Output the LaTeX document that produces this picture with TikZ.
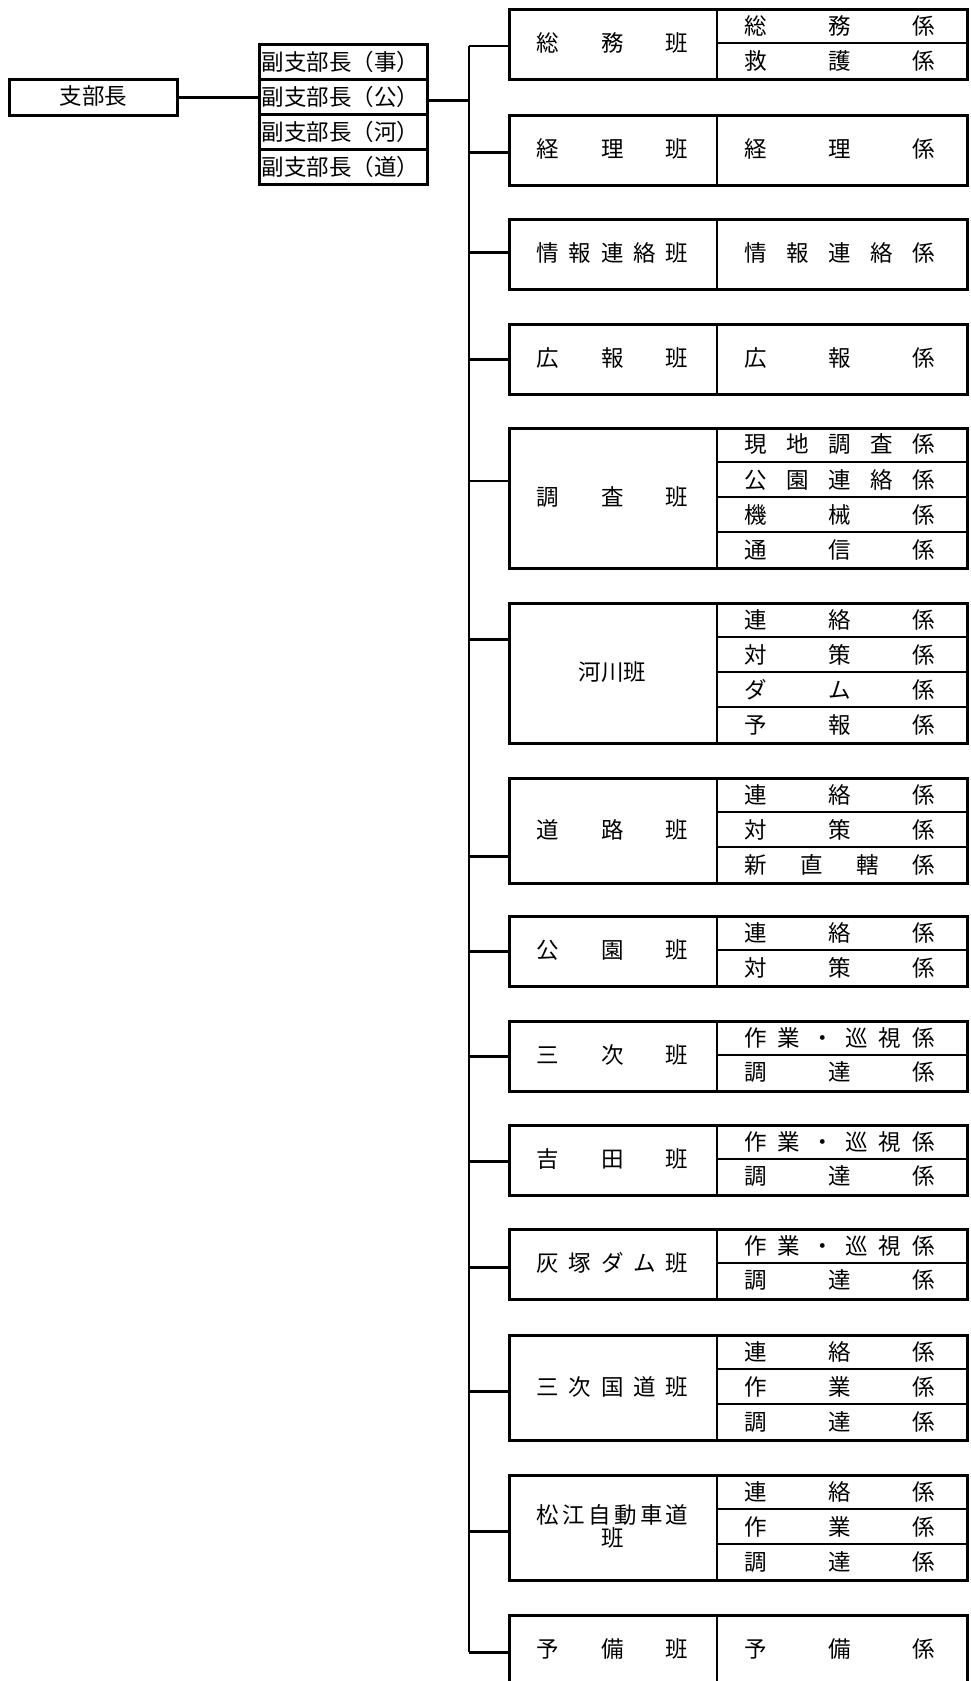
\documentclass[tikz,border=0pt]{standalone}
\usepackage{fontspec}
\setmainfont{Noto Sans CJK JP}
\newcommand\rtxt[1]{\makebox[191pt][s]{#1}}
\newcommand\ltxt[1]{\makebox[152pt][s]{#1}}
\begin{document}
\begin{tikzpicture}[x=1pt,y=-1pt,
  box/.style={draw,line width=3.2pt,inner sep=0pt},
  div/.style={line width=2.4pt},
  conn/.style={line width=3pt},
  thinconn/.style={line width=1.6pt},
  trunk/.style={line width=1.6pt},
  txt/.style={inner sep=0pt,font=\fontsize{22.5}{23.5}\selectfont}]
\useasboundingbox (0,0) rectangle (971,1681);
\clip (0,0) rectangle (971,1681);

% group macro: id, top, units, left label, connector y, number of rows, rows, connector style
\newcommand\grp[8]{%
  \node[box,anchor=north west,minimum width=458pt,minimum height={35pt*#3}] (#1) at (508,#2) {};
  \draw[div] (717,#2) -- (717,{#2+35*#3});
  \node[txt,align=center] (#1L) at (612.5,{#2+17.5*#3}) {#4};
  \pgfmathsetmacro\rh{35*#3/#6}
  \foreach \lab [count=\i] in {#7} {
    \node[txt] (#1r\i) at (839.5,{#2+\rh*(\i-0.5)}) {\rtxt{\lab}};
    \ifnum\i>1 \draw[div] (717,{#2+\rh*(\i-1)}) -- (966,{#2+\rh*(\i-1)});\fi
  }
  \coordinate (#1c) at (469,#5);
  \draw[#8] (#1c) -- (#1c -| #1.west);
}

% chief
\node[box,anchor=north west,minimum width=168pt,minimum height=36pt] (chief) at (8,78) {};
\node[txt] (chiefL) at (93.5,96) {支部長};

% vice chiefs
\foreach \k/\t in {1/事,2/公,3/河,4/道} {
  \node[box,anchor=north west,minimum width=168pt,minimum height=35pt] (v\k) at (258,{43+35*(\k-1)}) {};
  \node[txt,anchor=west] (v\k L) at ([xshift=3.5pt]v\k.west) {副支部長\makebox[1em][r]{（}\t\makebox[1em][l]{）}};
}
\draw[conn] (chief.east) -- (chief.east -| v2.west);

\grp{g1}{8}{2}{\ltxt{総\hfill 務\hfill 班}}{46}{2}{総\hfill 務\hfill 係,救\hfill 護\hfill 係}{thinconn}
\grp{g2}{114}{2}{\ltxt{経\hfill 理\hfill 班}}{152}{1}{経\hfill 理\hfill 係}{conn}
\grp{g3}{218}{2}{\ltxt{情\hfill 報\hfill 連\hfill 絡\hfill 班}}{252}{1}{情\hfill 報\hfill 連\hfill 絡\hfill 係}{conn}
\grp{g4}{323}{2}{\ltxt{広\hfill 報\hfill 班}}{359}{1}{広\hfill 報\hfill 係}{conn}
\grp{g5}{427}{4}{\ltxt{調\hfill 査\hfill 班}}{481}{4}{現\hfill 地\hfill 調\hfill 査\hfill 係,公\hfill 園\hfill 連\hfill 絡\hfill 係,機\hfill 械\hfill 係,通\hfill 信\hfill 係}{thinconn}
\grp{g6}{602}{4}{河川班}{639}{4}{連\hfill 絡\hfill 係,対\hfill 策\hfill 係,ダ\hfill ム\hfill 係,予\hfill 報\hfill 係}{conn}
\grp{g7}{777}{3}{\ltxt{道\hfill 路\hfill 班}}{856}{3}{連\hfill 絡\hfill 係,対\hfill 策\hfill 係,新\hfill 直\hfill 轄\hfill 係}{conn}
\grp{g8}{915}{2}{\ltxt{公\hfill 園\hfill 班}}{951}{2}{連\hfill 絡\hfill 係,対\hfill 策\hfill 係}{conn}
\grp{g9}{1020}{2}{\ltxt{三\hfill 次\hfill 班}}{1056}{2}{作\hfill 業\hfill ・\hfill 巡\hfill 視\hfill 係,調\hfill 達\hfill 係}{conn}
\grp{g10}{1124}{2}{\ltxt{吉\hfill 田\hfill 班}}{1161}{2}{作\hfill 業\hfill ・\hfill 巡\hfill 視\hfill 係,調\hfill 達\hfill 係}{conn}
\grp{g11}{1228}{2}{\ltxt{灰\hfill 塚\hfill ダ\hfill ム\hfill 班}}{1267}{2}{作\hfill 業\hfill ・\hfill 巡\hfill 視\hfill 係,調\hfill 達\hfill 係}{conn}
\grp{g12}{1334}{3}{\ltxt{三\hfill 次\hfill 国\hfill 道\hfill 班}}{1391}{3}{連\hfill 絡\hfill 係,作\hfill 業\hfill 係,調\hfill 達\hfill 係}{conn}
\grp{g13}{1474}{3}{\ltxt{松\hfill 江\hfill 自\hfill 動\hfill 車\hfill 道}\\班}{1531}{3}{連\hfill 絡\hfill 係,作\hfill 業\hfill 係,調\hfill 達\hfill 係}{conn}
\grp{g14}{1614}{2}{\ltxt{予\hfill 備\hfill 班}}{1652}{1}{予\hfill 備\hfill 係}{conn}

% trunk
\draw[trunk] (g1c) -- (g14c);
\coordinate (vc) at (469,100);
\draw[conn] (vc -| v2.east) -- (vc);
\end{tikzpicture}
\end{document}
